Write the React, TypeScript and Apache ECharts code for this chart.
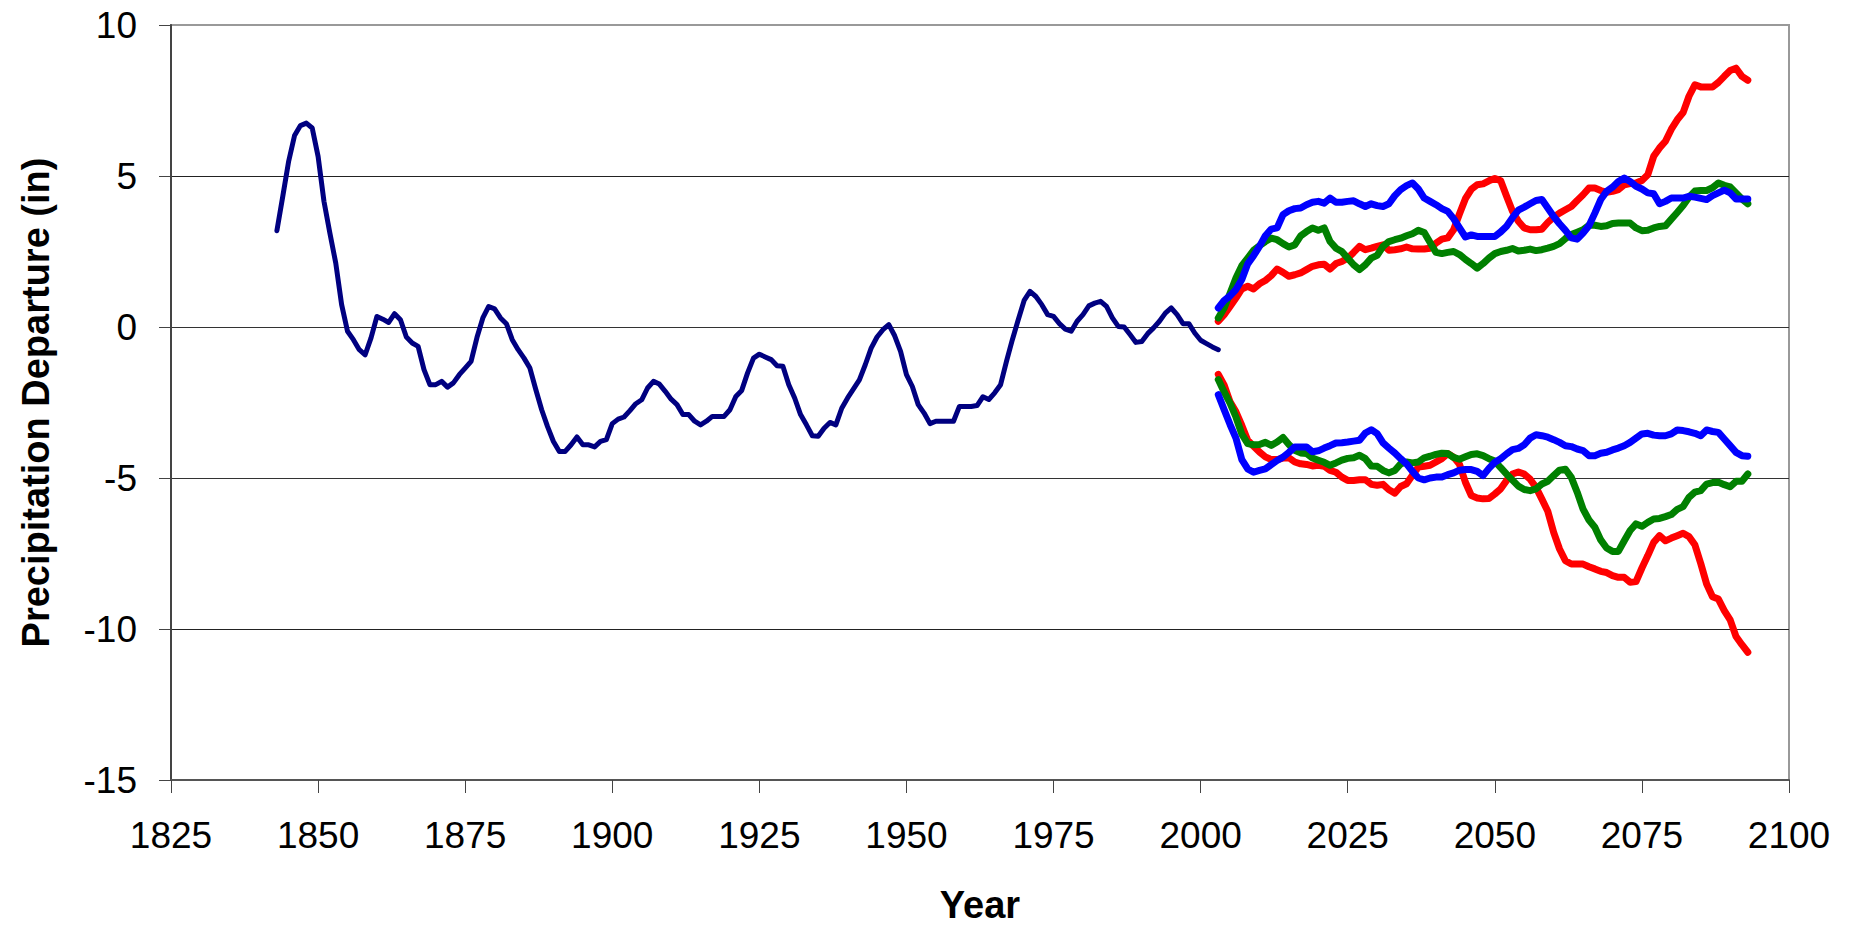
import React, { useEffect, useRef } from "react";
import * as echarts from "echarts";

// ---- Data ----
const HIST_START = 1843;
const PROJ_START = 2003;

const xTicks = { min: 1825, max: 2100, interval: 25 };
const yTicks = { min: -15, max: 10, interval: 5 };

const historical = [
  3.19, 4.33, 5.49, 6.34, 6.67, 6.75, 6.59, 5.65,
  4.16, 3.11, 2.12, 0.74, -0.14, -0.42, -0.75, -0.92, -0.36, 0.35,
  0.26, 0.15, 0.44, 0.24, -0.33, -0.53, -0.64, -1.41, -1.91, -1.91,
  -1.8, -1.99, -1.85, -1.58, -1.36, -1.14, -0.35, 0.3, 0.68, 0.6,
  0.3, 0.11, -0.42, -0.75, -1.03, -1.36, -2.07, -2.74, -3.3, -3.79,
  -4.12, -4.12, -3.9, -3.64, -3.9, -3.9, -3.97, -3.79, -3.73, -3.2,
  -3.05, -2.98, -2.77, -2.54, -2.41, -2.02, -1.8, -1.89, -2.13, -2.39,
  -2.57, -2.9, -2.9, -3.12, -3.24, -3.12, -2.96, -2.96, -2.96, -2.74,
  -2.3, -2.1, -1.52, -1.03, -0.9, -0.99, -1.08, -1.28, -1.3, -1.91,
  -2.35, -2.9, -3.24, -3.6, -3.62, -3.35, -3.16, -3.24, -2.69, -2.35,
  -2.05, -1.75, -1.25, -0.7, -0.33, -0.09, 0.08, -0.29, -0.81, -1.58,
  -1.97, -2.57, -2.85, -3.2, -3.12, -3.12, -3.12, -3.12, -2.63, -2.63,
  -2.63, -2.6, -2.31, -2.4, -2.18, -1.91, -1.14, -0.42, 0.24, 0.88,
  1.18, 1.01, 0.74, 0.41, 0.35, 0.11, -0.07, -0.14, 0.19, 0.41,
  0.7, 0.79, 0.85, 0.68, 0.3, 0.02, 0.0, -0.25, -0.51, -0.48,
  -0.22, -0.03, 0.19, 0.46, 0.63, 0.41, 0.11, 0.11, -0.2, -0.44,
  -0.55, -0.66, -0.75,
];

const redUpper = [
  0.19, 0.41, 0.68, 0.96, 1.26, 1.35, 1.26, 1.43, 1.54, 1.7,
  1.92, 1.81, 1.68, 1.73, 1.79, 1.9, 2.01, 2.06, 2.08, 1.92,
  2.1, 2.17, 2.28, 2.47, 2.67, 2.56, 2.61, 2.67, 2.72, 2.54,
  2.56, 2.59, 2.65, 2.59, 2.58, 2.58, 2.61, 2.78, 2.91, 2.95,
  3.22, 3.75, 4.25, 4.56, 4.71, 4.74, 4.84, 4.92, 4.84, 4.33,
  3.83, 3.5, 3.28, 3.22, 3.22, 3.24, 3.46, 3.64, 3.77, 3.88,
  3.99, 4.19, 4.38, 4.6, 4.6, 4.52, 4.46, 4.49, 4.55, 4.71,
  4.75, 4.77, 4.85, 5.04, 5.65, 5.93, 6.15, 6.55, 6.86, 7.1,
  7.64, 8.02, 7.95, 7.95, 7.95, 8.1, 8.3, 8.49, 8.57, 8.3,
  8.17,
];

const greenUpper = [
  0.3, 0.63, 1.12, 1.62, 2.03, 2.28, 2.54, 2.69, 2.83, 2.94,
  2.89, 2.76, 2.65, 2.72, 3.02, 3.16, 3.28, 3.2, 3.28, 2.83,
  2.61, 2.5, 2.28, 2.06, 1.9, 2.06, 2.28, 2.37, 2.67, 2.83,
  2.89, 2.94, 3.02, 3.09, 3.2, 3.13, 2.8, 2.47, 2.43, 2.47,
  2.5, 2.4, 2.24, 2.1, 1.95, 2.1, 2.28, 2.43, 2.5, 2.54,
  2.6, 2.52, 2.54, 2.58, 2.53, 2.56, 2.61, 2.67, 2.76, 2.93,
  3.06, 3.14, 3.22, 3.37, 3.37, 3.33, 3.35, 3.43, 3.44, 3.44,
  3.44, 3.28, 3.19, 3.2, 3.28, 3.33, 3.35, 3.57, 3.79, 4.02,
  4.3, 4.5, 4.52, 4.52, 4.61, 4.77, 4.69, 4.64, 4.44, 4.24,
  4.08,
];

const blueUpper = [
  0.63, 0.88, 1.03, 1.24, 1.57, 2.09, 2.36, 2.67, 3.02, 3.24,
  3.28, 3.72, 3.85, 3.92, 3.94, 4.05, 4.13, 4.16, 4.1, 4.27,
  4.13, 4.13, 4.16, 4.18, 4.08, 3.99, 4.08, 4.02, 3.99, 4.08,
  4.35, 4.55, 4.68, 4.77, 4.57, 4.27, 4.16, 4.05, 3.92, 3.83,
  3.59, 3.28, 2.98, 3.05, 3.0, 3.0, 3.0, 3.0, 3.15, 3.34,
  3.62, 3.87, 3.97, 4.08, 4.19, 4.22, 3.94, 3.66, 3.42, 3.2,
  2.95, 2.91, 3.11, 3.35, 3.77, 4.22, 4.49, 4.63, 4.82, 4.93,
  4.82, 4.66, 4.57, 4.44, 4.41, 4.08, 4.16, 4.27, 4.27, 4.27,
  4.33, 4.3, 4.26, 4.22, 4.35, 4.44, 4.53, 4.44, 4.24, 4.24,
  4.24,
];

const redLower = [
  -1.57, -1.93, -2.48, -2.81, -3.26, -3.75, -3.95, -4.14, -4.3, -4.39,
  -4.39, -4.34, -4.33, -4.47, -4.53, -4.55, -4.6, -4.58, -4.61, -4.75,
  -4.81, -4.97, -5.08, -5.08, -5.06, -5.06, -5.21, -5.24, -5.21, -5.39,
  -5.5, -5.28, -5.19, -4.91, -4.64, -4.61, -4.58, -4.47, -4.36, -4.19,
  -4.31, -4.55, -5.14, -5.58, -5.66, -5.69, -5.68, -5.53, -5.36, -5.08,
  -4.87, -4.8, -4.87, -5.04, -5.31, -5.7, -6.1, -6.8, -7.35, -7.74,
  -7.85, -7.85, -7.85, -7.94, -8.01, -8.09, -8.13, -8.23, -8.29, -8.29,
  -8.45, -8.43, -7.98, -7.57, -7.13, -6.91, -7.08, -6.99, -6.91, -6.83,
  -6.94, -7.21, -7.83, -8.51, -8.93, -9.01, -9.39, -9.7, -10.25, -10.52,
  -10.77,
];

const greenLower = [
  -1.74, -2.15, -2.52, -2.98, -3.55, -3.86, -3.9, -3.89, -3.82, -3.92,
  -3.81, -3.66, -3.89, -4.08, -4.17, -4.19, -4.34, -4.41, -4.48, -4.58,
  -4.5, -4.41, -4.35, -4.33, -4.25, -4.36, -4.6, -4.61, -4.75, -4.83,
  -4.75, -4.53, -4.47, -4.5, -4.47, -4.33, -4.28, -4.22, -4.18, -4.19,
  -4.32, -4.38, -4.3, -4.22, -4.2, -4.26, -4.36, -4.44, -4.66, -4.87,
  -5.07, -5.27, -5.38, -5.42, -5.36, -5.2, -5.11, -4.92, -4.74, -4.71,
  -4.98, -5.47, -6.03, -6.39, -6.63, -7.05, -7.32, -7.43, -7.43, -7.08,
  -6.74, -6.52, -6.6, -6.47, -6.36, -6.34, -6.28, -6.21, -6.04, -5.95,
  -5.64, -5.47, -5.42, -5.2, -5.15, -5.14, -5.22, -5.29, -5.11, -5.11,
  -4.87,
];

const blueLower = [
  -2.24, -2.74, -3.23, -3.68, -4.39, -4.7, -4.81, -4.75, -4.7, -4.56,
  -4.42, -4.31, -4.15, -3.97, -3.97, -3.97, -4.13, -4.1, -4.01, -3.93,
  -3.84, -3.83, -3.81, -3.78, -3.75, -3.51, -3.4, -3.53, -3.84, -4.01,
  -4.17, -4.36, -4.53, -4.78, -5.0, -5.06, -5.0, -4.97, -4.97, -4.89,
  -4.83, -4.74, -4.72, -4.72, -4.78, -4.92, -4.68, -4.48, -4.36, -4.2,
  -4.06, -4.02, -3.9, -3.68, -3.57, -3.6, -3.65, -3.73, -3.82, -3.93,
  -3.96, -4.04, -4.09, -4.26, -4.26, -4.18, -4.15, -4.07, -4.01, -3.93,
  -3.82, -3.68, -3.54, -3.52, -3.58, -3.6, -3.6, -3.54, -3.41, -3.43,
  -3.47, -3.52, -3.6, -3.41, -3.46, -3.49, -3.71, -3.93, -4.15, -4.26,
  -4.28,
];

const xTitle = "Year";
const yTitle = "Precipitation Departure (in)";

const FONT = "'Liberation Sans', Arial, sans-serif";

const toPairs = (start: number, vals: number[]) => vals.map((v, i) => [start + i, v]);

const projSeries = [
  { name: "Red (upper)", data: redUpper, color: "#FF0000" },
  { name: "Green (upper)", data: greenUpper, color: "#008000" },
  { name: "Blue (upper)", data: blueUpper, color: "#0000FF" },
  { name: "Red (lower)", data: redLower, color: "#FF0000" },
  { name: "Green (lower)", data: greenLower, color: "#008000" },
  { name: "Blue (lower)", data: blueLower, color: "#0000FF" },
];

export default function App() {
  const ref = useRef<HTMLDivElement>(null);

  useEffect(() => {
    if (!ref.current) return;
    const chart = echarts.init(ref.current, undefined, { renderer: "svg" });
    const option: any = {
      animation: false,
      backgroundColor: "#ffffff",
      grid: {
        left: 171,
        right: 69,
        top: 25,
        bottom: 149,
        show: true,
        borderColor: "#999999",
        borderWidth: 2,
        backgroundColor: "transparent",
      },
      xAxis: {
        type: "value",
        min: xTicks.min,
        max: xTicks.max,
        interval: xTicks.interval,
        name: xTitle,
        nameLocation: "middle",
        nameGap: 106,
        nameTextStyle: { fontFamily: FONT, fontSize: 38, fontWeight: "bold", color: "#000" },
        axisLine: { show: true, onZero: false, lineStyle: { color: "#555", width: 2 } },
        axisTick: { show: true, inside: false, length: 13, lineStyle: { color: "#444", width: 1 } },
        axisLabel: {
          fontFamily: FONT,
          fontSize: 37,
          color: "#000",
          margin: 37,
          showMinLabel: true,
          showMaxLabel: true,
          formatter: (v: number) => String(v),
        },
        splitLine: { show: false },
      },
      yAxis: {
        type: "value",
        min: yTicks.min,
        max: yTicks.max,
        interval: yTicks.interval,
        name: yTitle,
        nameLocation: "middle",
        nameGap: 116,
        nameTextStyle: { fontFamily: FONT, fontSize: 38, fontWeight: "bold", color: "#000" },
        axisLine: { show: true, onZero: false, lineStyle: { color: "#444", width: 2 } },
        axisTick: { show: true, inside: false, length: 12, lineStyle: { color: "#444", width: 1 } },
        axisLabel: { fontFamily: FONT, fontSize: 37, color: "#000", margin: 34, formatter: (v: number) => String(v) },
        splitLine: {
          show: true,
          lineStyle: { color: ["#666", "#222", "#333", "#333", "#222", "#999"], width: 1 },
        },
      },
      series: [
        {
          name: "Historical",
          type: "line",
          data: toPairs(HIST_START, historical),
          showSymbol: false,
          symbol: "none",
          lineStyle: { color: "#000080", width: 5, join: "round", cap: "round" },
          itemStyle: { color: "#000080" },
          z: 3,
        },
        ...projSeries.map((s) => ({
          name: s.name,
          type: "line",
          data: toPairs(PROJ_START, s.data),
          showSymbol: false,
          symbol: "none",
          lineStyle: { color: s.color, width: 7, cap: "round", join: "round" },
          itemStyle: { color: s.color },
          z: 3,
        })),
      ],
    };
    chart.setOption(option);
    return () => chart.dispose();
  }, []);

  return (
    <div
      ref={ref}
      style={{ position: "absolute", left: 0, top: 0, width: 1858, height: 929, background: "#fff" }}
    />
  );
}
